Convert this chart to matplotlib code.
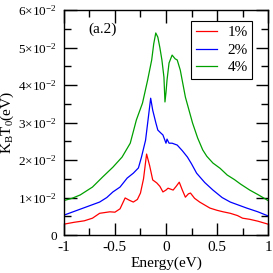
import matplotlib
matplotlib.use("Agg")
import matplotlib.pyplot as plt
from matplotlib.ticker import MultipleLocator, FixedLocator, FixedFormatter

plt.rcParams['font.family'] = ['Liberation Serif', 'DejaVu Serif']
plt.rcParams['mathtext.fontset'] = 'custom'
plt.rcParams['mathtext.rm'] = 'Liberation Serif'
plt.rcParams['mathtext.it'] = 'Liberation Serif:italic'
plt.rcParams['mathtext.default'] = 'regular'

red_x = [-1, -0.9, -0.8, -0.72, -0.65, -0.55, -0.5, -0.45, -0.4, -0.36, -0.32, -0.28, -0.25, -0.22, -0.19, -0.16, -0.13, -0.09, -0.06, -0.03, 0.0, 0.02, 0.05, 0.07, 0.1, 0.13, 0.16, 0.19, 0.22, 0.24, 0.28, 0.33, 0.38, 0.43, 0.5, 0.56, 0.63, 0.7, 0.75, 0.82, 0.9, 1.0]
red_y = [0.29, 0.34, 0.38, 0.45, 0.58, 0.62, 0.61, 0.7, 0.99, 0.93, 0.88, 0.95, 1.12, 1.5, 2.16, 1.85, 1.47, 1.39, 1.3, 1.15, 1.2, 1.25, 1.22, 1.2, 1.3, 1.41, 1.2, 1.01, 1.1, 1.12, 0.98, 0.88, 0.8, 0.72, 0.66, 0.62, 0.58, 0.52, 0.45, 0.42, 0.37, 0.29]

blue_x = [-1, -0.9, -0.78, -0.65, -0.58, -0.52, -0.45, -0.38, -0.32, -0.27, -0.24, -0.2, -0.17, -0.15, -0.13, -0.1, -0.08, -0.05, -0.03, 0.0, 0.01, 0.03, 0.06, 0.11, 0.16, 0.21, 0.25, 0.3, 0.38, 0.46, 0.55, 0.63, 0.71, 0.79, 0.9, 1.0]
blue_y = [0.53, 0.63, 0.75, 0.88, 1.0, 1.15, 1.28, 1.52, 1.65, 1.79, 2.08, 2.53, 3.2, 3.65, 3.33, 3.0, 2.8, 2.72, 2.67, 2.45, 2.56, 2.45, 2.45, 2.4, 2.25, 2.08, 1.9, 1.65, 1.4, 1.2, 1.0, 0.88, 0.8, 0.72, 0.62, 0.51]

green_x = [-1, -0.92, -0.84, -0.72, -0.62, -0.52, -0.43, -0.35, -0.29, -0.23, -0.18, -0.14, -0.12, -0.1, -0.08, -0.06, -0.04, -0.02, -0.01, 0.0, 0.01, 0.03, 0.06, 0.09, 0.11, 0.14, 0.19, 0.26, 0.31, 0.36, 0.4, 0.46, 0.53, 0.6, 0.67, 0.73, 0.82, 0.9, 1.0]
green_y = [0.92, 0.98, 1.07, 1.28, 1.55, 1.81, 2.08, 2.45, 3.07, 3.52, 4.13, 4.67, 5.1, 5.39, 5.28, 5.0, 4.67, 4.21, 3.55, 3.8, 4.13, 4.59, 4.8, 4.7, 4.67, 4.4, 3.68, 2.99, 2.59, 2.27, 2.1, 1.92, 1.78, 1.6, 1.48, 1.36, 1.2, 1.08, 0.92]

labels = ['1%', '2%', '4%']
colors = ['#ff0000', '#0000ff', '#00a000']
scale = 1e-2

ytick_vals = [0, 1, 2, 3, 4, 5, 6]
ytick_labels = ['0'] + ['%d×10$^{-2}$' % v for v in ytick_vals[1:]]

fig = plt.figure(figsize=(2.73, 2.73), dpi=100)
ax = fig.add_axes([0.234, 0.139, 0.748, 0.824])

for xs, ys, c, lab in zip([red_x, blue_x, green_x], [red_y, blue_y, green_y], colors, labels):
    ax.plot(xs, [v * scale for v in ys], color=c, lw=0.9, label=lab)

ax.set_xlim(-1, 1)
ax.set_ylim(0, 0.06)
ax.xaxis.set_minor_locator(MultipleLocator(0.25))
ax.yaxis.set_major_locator(FixedLocator([v * scale for v in ytick_vals]))
ax.yaxis.set_major_formatter(FixedFormatter(ytick_labels))
ax.yaxis.set_minor_locator(MultipleLocator(0.005))
ax.set_xticks([-1, -0.5, 0, 0.5, 1])
ax.set_xticklabels(['-1', '-0.5', '0', '0.5', '1'])
ax.tick_params(which='both', direction='in', top=True, right=True, labelsize=11, width=1)
ax.tick_params(which='major', length=9)
ax.tick_params(which='minor', length=5)
ax.tick_params(axis='y', pad=5, labelsize=9.5)
ax.tick_params(axis='x', pad=4)
for s in ax.spines.values():
    s.set_linewidth(1)

ax.set_xlabel('Energy(eV)', fontsize=11, labelpad=2)
ax.set_ylabel('K$_{B}$T$_{0}$(eV)', fontsize=11)
ax.yaxis.set_label_coords(-0.235, 0.5)
ax.text(0.12, 0.9, '(a.2)', transform=ax.transAxes, fontsize=11)

leg = ax.legend(loc='upper right', bbox_to_anchor=(0.922, 0.951), fontsize=11,
                frameon=True, fancybox=False, edgecolor='black', framealpha=1,
                handlelength=1.4, borderpad=0.3, labelspacing=0.25,
                handletextpad=0.65, borderaxespad=0.0)
leg.get_frame().set_linewidth(0.8)

fig.savefig('out.png', dpi=100)
